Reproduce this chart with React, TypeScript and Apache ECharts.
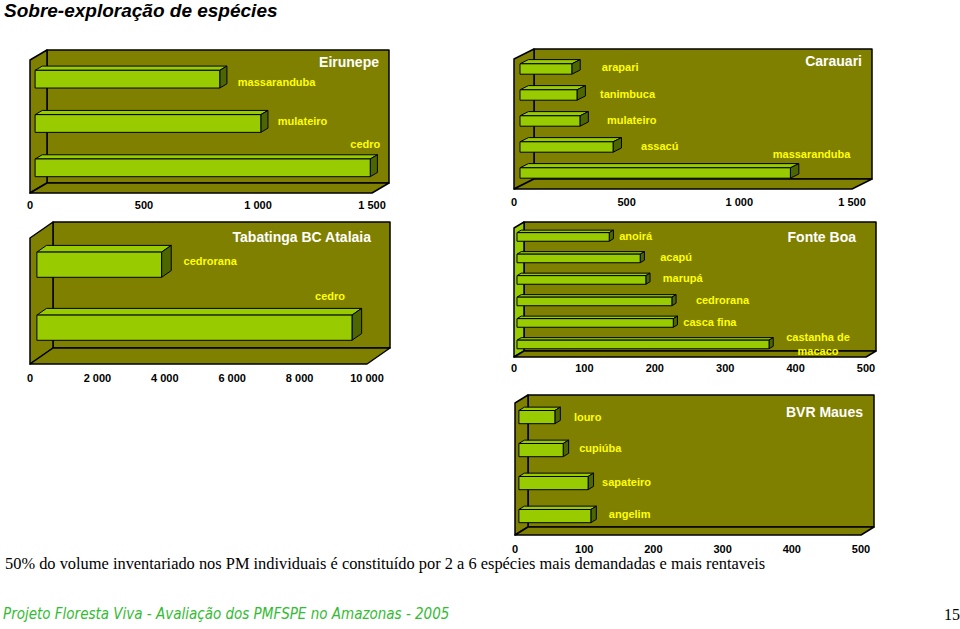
import React, { useEffect, useRef } from "react";
import * as echarts from "echarts";

// ---------- data ----------
const eirunepeSpecies = ["massaranduba", "mulateiro", "cedro"];
const eirunepeVolume = [810, 990, 1470];

const carauariSpecies = ["arapari", "tanimbuca", "mulateiro", "assacú", "massaranduba"];
const carauariVolume = [230, 253, 266, 413, 1200];

const tabatingaSpecies = ["cedrorana", "cedro"];
const tabatingaVolume = [3700, 9350];

const fonteBoaSpecies = ["anoirá", "acapú", "marupá", "cedrorana", "casca fina", "castanha de\nmacaco"];
const fonteBoaVolume = [131, 175, 183, 220, 222, 358];

const bvrMauesSpecies = ["louro", "cupiúba", "sapateiro", "angelim"];
const bvrMauesVolume = [52, 64, 100, 104];

const panelNames = ["Eirunepe", "Carauari", "Tabatinga BC Atalaia", "Fonte Boa", "BVR Maues"];
const axisMax = [1500, 1500, 10000, 500, 500];
const axisInterval = [500, 500, 2000, 100, 100];

const mainTitle = "Sobre-exploração de espécies";
const noteText =
  "50% do volume inventariado nos PM individuais é constituído por 2 a 6 espécies mais demandadas e mais rentaveis";
const footerText = "Projeto Floresta Viva - Avaliação dos PMFSPE no Amazonas - 2005";
const pageNumber = "15";

// ---------- layout / style ----------
const WALL = "#808000";
const LIME = "#99cc00";
const DARK = "#4d6600";
const ARIAL = "Arial, 'Liberation Sans', sans-serif";

const panels = [
  { species: eirunepeSpecies, volume: eirunepeVolume },
  { species: carauariSpecies, volume: carauariVolume },
  { species: tabatingaSpecies, volume: tabatingaVolume },
  { species: fonteBoaSpecies, volume: fonteBoaVolume },
  { species: bvrMauesSpecies, volume: bvrMauesVolume },
];

const layouts = [
  { left: 30, top: 60, width: 342, height: 133, dx: 17, dy: 10, margin: 6, side: WALL, tDx: -10, tDy: 12,
    lDx: [18, 17, 10], lDy: [3, -3, -24], lAlign: ["left", "left", "right"] },
  { left: 514, top: 59, width: 338, height: 130, dx: 20, dy: 10, margin: 7, side: WALL, tDx: -10, tDy: 12,
    lDx: [30, 23, 27, 28, 60], lDy: [-2, -1, -1, -1, -19], lAlign: ["left", "left", "left", "left", "right"] },
  { left: 30, top: 238, width: 337, height: 126, dx: 23, dy: 16, margin: 8, side: WALL, tDx: -19, tDy: 15,
    lDx: [22, -7], lDy: [-4, -32], lAlign: ["left", "right"] },
  { left: 514, top: 228, width: 352, height: 129, dx: 10, dy: 6, margin: 5, side: LIME, tDx: -20, tDy: 15,
    lDx: [10, 20, 17, 24, 10, 49], lDy: [-1, -1, -2, -1, -1, 0],
    lAlign: ["left", "left", "left", "left", "left", "center"] },
  { left: 515, top: 403, width: 346, height: 132, dx: 13, dy: 8, margin: 8, side: WALL, tDx: -11, tDy: 17,
    lDx: [19, 16, 14, 18], lDy: [0, -2, -1, -2], lAlign: ["left", "left", "left", "left"] },
];

const fmt = (v: number) =>
  v >= 1000 ? `${Math.floor(v / 1000)} ${String(v % 1000).padStart(3, "0")}` : String(v);

export default function App() {
  const ref = useRef<HTMLDivElement>(null);

  useEffect(() => {
    if (!ref.current) return;
    const chart = echarts.init(ref.current, undefined, { renderer: "svg" });

    const grid: any[] = [];
    const xAxis: any[] = [];
    const yAxis: any[] = [];
    const series: any[] = [];
    const graphic: any[] = [];

    panels.forEach((p, i) => {
      const L = layouts[i];
      grid.push({ left: L.left, top: L.top, width: L.width, height: L.height, containLabel: false });
      xAxis.push({
        type: "value",
        gridIndex: i,
        min: 0,
        max: axisMax[i],
        interval: axisInterval[i],
        axisLine: { show: false },
        axisTick: { show: false },
        splitLine: { show: false },
        axisLabel: {
          margin: L.margin,
          color: "#000",
          fontWeight: "bold",
          fontSize: 11,
          fontFamily: ARIAL,
          formatter: fmt,
        },
      });
      yAxis.push({
        type: "category",
        gridIndex: i,
        inverse: true,
        data: p.species,
        axisLine: { show: false },
        axisTick: { show: false },
        axisLabel: { show: false },
        splitLine: { show: false },
      });

      // walls and floor
      series.push({
        type: "custom",
        xAxisIndex: i,
        yAxisIndex: i,
        z: 1,
        clip: false,
        silent: true,
        data: [[0, 0]],
        renderItem: (params: any) => {
          const cs = params.coordSys;
          const x = cs.x, y = cs.y, w = cs.width, h = cs.height;
          const dx = L.dx, dy = L.dy;
          const stroke = { stroke: "#000", lineWidth: 1.5, lineJoin: "round" };
          return {
            type: "group",
            children: [
              { type: "rect", shape: { x: x + dx, y: y - dy, width: w, height: h },
                style: { fill: WALL, ...stroke } },
              { type: "polygon",
                shape: { points: [[x, y], [x + dx, y - dy], [x + dx, y + h - dy], [x, y + h]] },
                style: { fill: L.side, ...stroke } },
              { type: "polygon",
                shape: { points: [[x, y + h], [x + dx, y + h - dy], [x + w + dx, y + h - dy], [x + w, y + h]] },
                style: { fill: WALL, ...stroke } },
            ],
          };
        },
      });

      // 3D bars
      series.push({
        type: "custom",
        xAxisIndex: i,
        yAxisIndex: i,
        z: 3,
        clip: false,
        encode: { x: 0, y: 1 },
        data: p.volume.map((v, k) => [v, k]),
        renderItem: (params: any, api: any) => {
          const v = api.value(0);
          const ci = api.value(1);
          const k = params.dataIndex;
          const p0 = api.coord([0, ci]);
          const p1 = api.coord([v, ci]);
          const band = api.size([0, 1])[1];
          const h = band * 0.4;
          const ox = L.dx * 0.3, oy = -L.dy * 0.3;
          const bx = L.dx * 0.42, by = L.dy * 0.42;
          const x0 = p0[0] + ox, x1 = p1[0] + ox;
          const yc = p0[1] + oy, yt = yc - h / 2, yb = yc + h / 2;
          const edge = { stroke: "#000", lineWidth: 1, lineJoin: "round" };
          return {
            type: "group",
            children: [
              { type: "polygon",
                shape: { points: [[x0, yt], [x1, yt], [x1 + bx, yt - by], [x0 + bx, yt - by]] },
                style: { fill: LIME, ...edge } },
              { type: "polygon",
                shape: { points: [[x1, yt], [x1 + bx, yt - by], [x1 + bx, yb - by], [x1, yb]] },
                style: { fill: DARK, ...edge } },
              { type: "rect", shape: { x: x0, y: yt, width: x1 - x0, height: h },
                style: { fill: LIME, ...edge } },
              { type: "text",
                style: {
                  text: p.species[k],
                  x: x1 + L.lDx[k],
                  y: yc + L.lDy[k],
                  fill: "#ffff00",
                  fontSize: 11,
                  fontWeight: "bold",
                  fontFamily: ARIAL,
                  align: L.lAlign[k],
                  verticalAlign: "middle",
                  lineHeight: 14,
                } },
            ],
          };
        },
      });

      graphic.push({
        type: "text",
        z: 10,
        x: L.left + L.width + L.dx + L.tDx,
        y: L.top - L.dy + L.tDy,
        style: {
          text: panelNames[i],
          fill: "#ffffff",
          fontSize: 14,
          fontWeight: "bold",
          fontFamily: ARIAL,
          align: "right",
          verticalAlign: "middle",
        },
      });
    });

    graphic.push(
      { type: "text", x: 4, y: 10,
        style: { text: mainTitle, fill: "#000", fontSize: 19, fontWeight: "bold", fontStyle: "italic",
          fontFamily: ARIAL, align: "left", verticalAlign: "middle" } },
      { type: "text", x: 5, y: 563,
        style: { text: noteText, fill: "#000", fontSize: 16.4,
          fontFamily: "'Liberation Serif', 'Times New Roman', serif", align: "left", verticalAlign: "middle" } },
      { type: "text", x: 3, y: 614,
        style: { text: footerText, fill: "#33bb33", fontSize: 15, fontStyle: "italic",
          fontFamily: "'Liberation Sans Narrow', 'DejaVu Sans Condensed', 'Noto Sans', sans-serif",
          align: "left", verticalAlign: "middle" } },
      { type: "text", x: 960, y: 614,
        style: { text: pageNumber, fill: "#000", fontSize: 16,
          fontFamily: "'Liberation Serif', 'Times New Roman', serif", align: "right", verticalAlign: "middle" } }
    );

    chart.setOption({
      animation: false,
      backgroundColor: "#ffffff",
      grid,
      xAxis,
      yAxis,
      series,
      graphic,
    });

    return () => chart.dispose();
  }, []);

  return (
    <div
      ref={ref}
      style={{ position: "absolute", left: 0, top: 0, width: 960, height: 629 }}
    />
  );
}
